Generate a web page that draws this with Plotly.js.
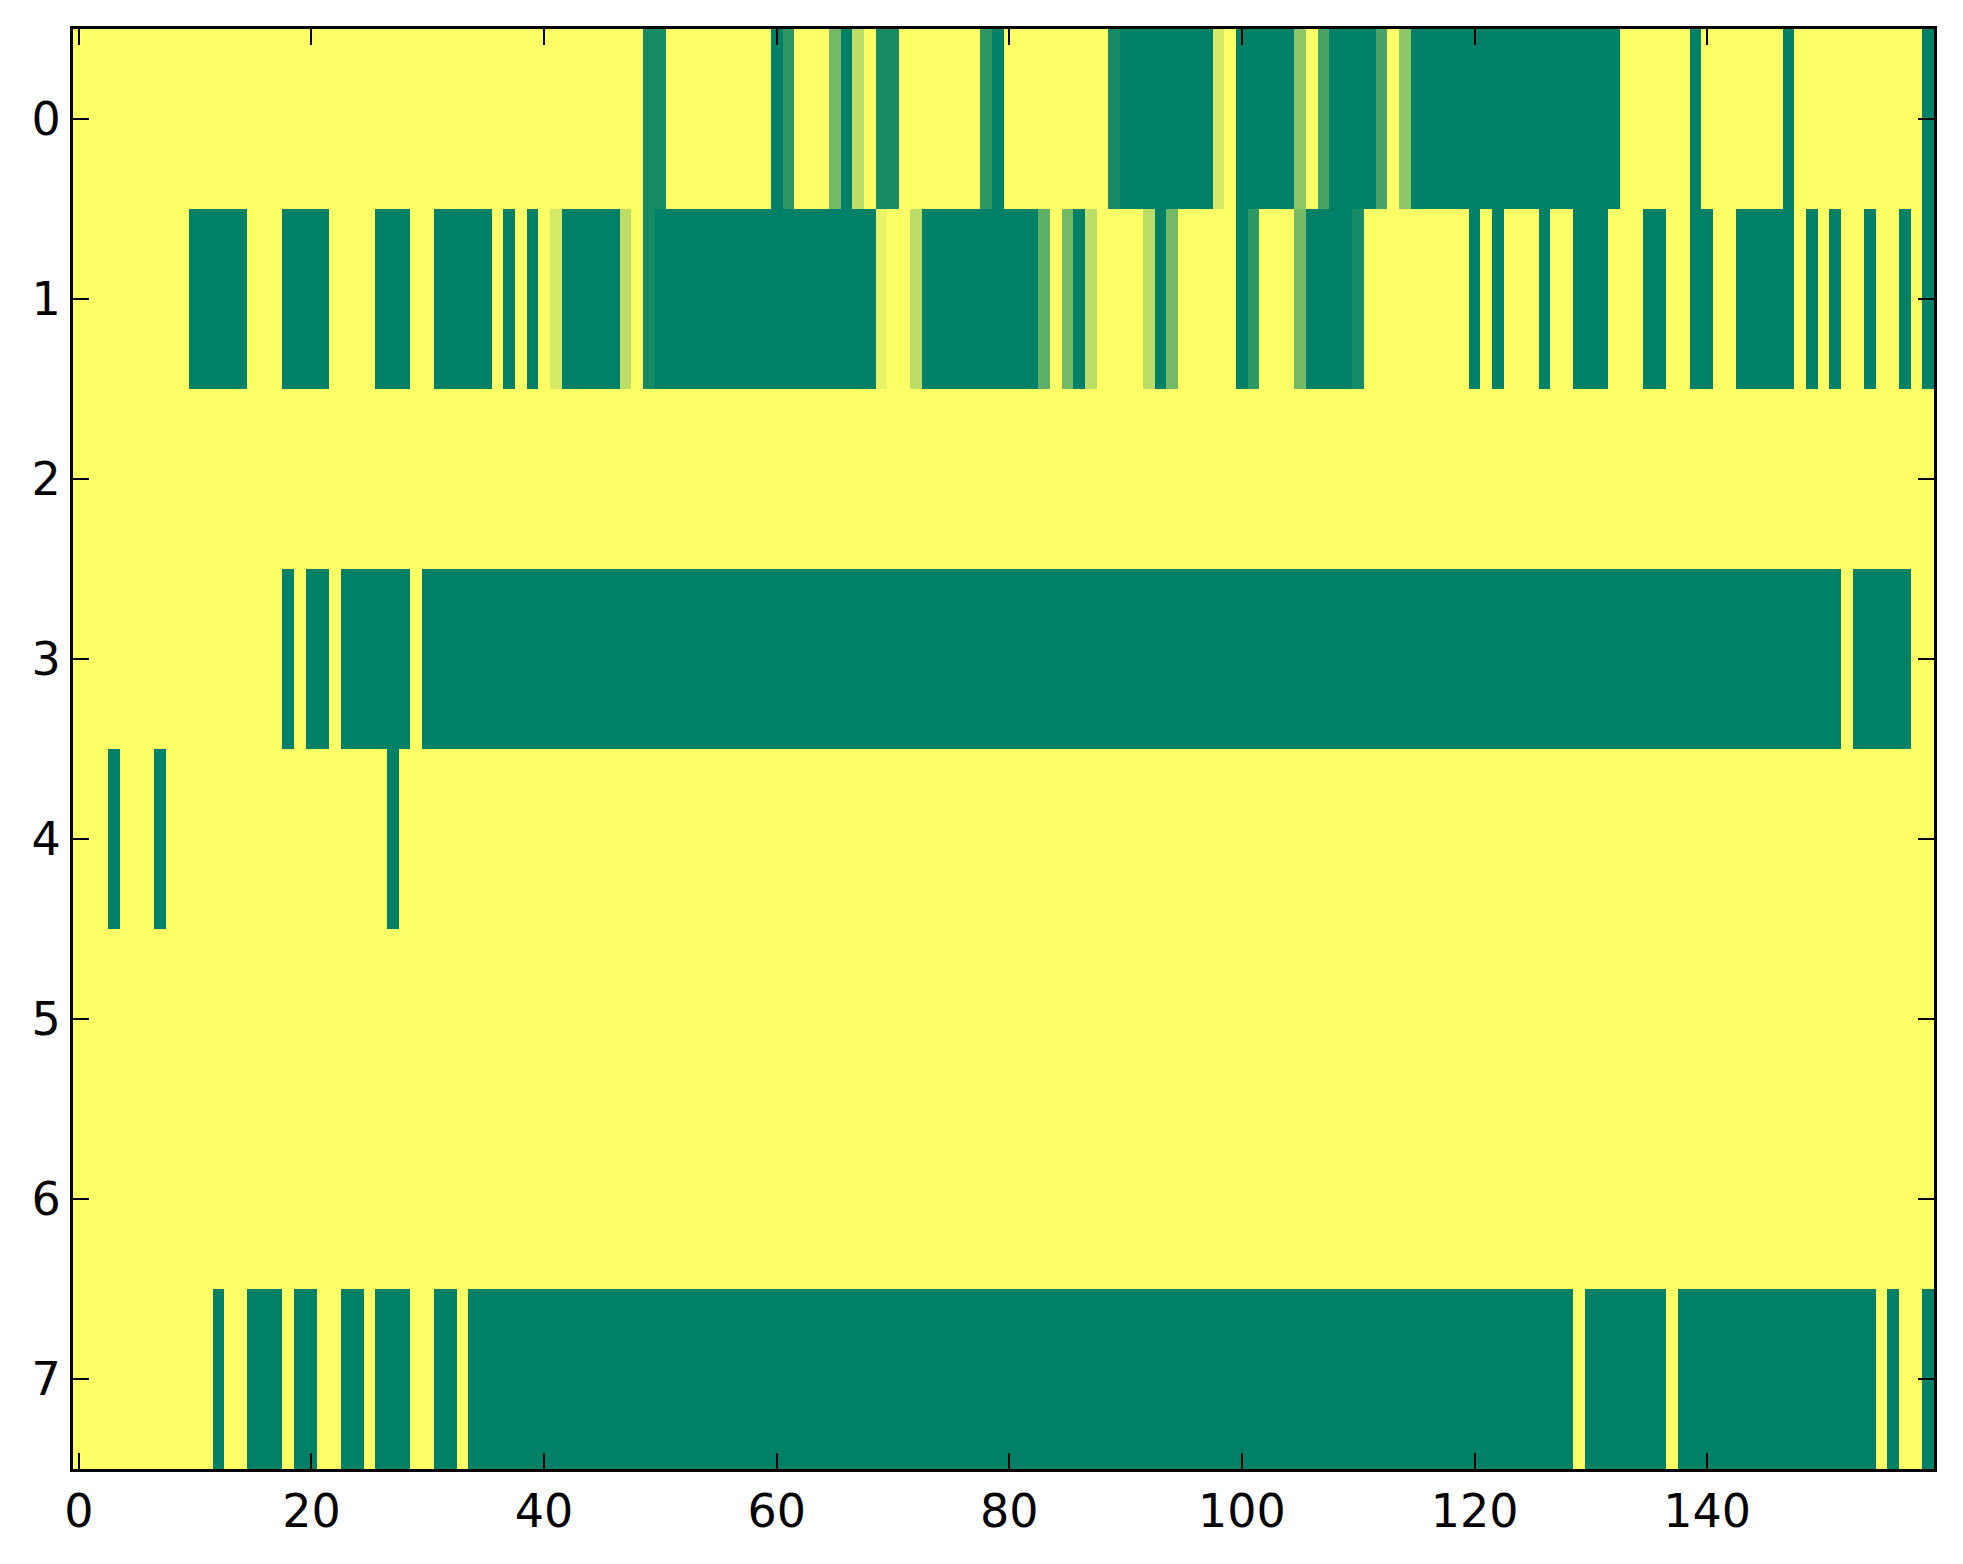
<!DOCTYPE html>
<html>
<head>
<meta charset="utf-8">
<script src="https://cdn.plot.ly/plotly-3.0.1.min.js"></script>
<style>html,body{margin:0;padding:0;background:#fff;}#chart{width:1963px;height:1564px;}</style>
</head>
<body>
<div id="chart"></div>
<script>
const columns = Array.from({length:160}, (_, i) => i);
const rowsIdx = [0,1,2,3,4,5,6,7];
const xTickVals = [0,20,40,60,80,100,120,140];
const yTickVals = [0,1,2,3,4,5,6,7];

const row0 = [
1,1,1,1,1,1,1,1,1,1,
1,1,1,1,1,1,1,1,1,1,
1,1,1,1,1,1,1,1,1,1,
1,1,1,1,1,1,1,1,1,1,
1,1,1,1,1,1,1,1,1,0.09,
0.09,1,1,1,1,1,1,1,1,1,
0,0.18,1,1,1,0.45,0,0.74,1,0.09,
0.09,1,1,1,1,1,1,1,0.18,0,
1,1,1,1,1,1,1,1,1,0.09,
0,0,0,0,0,0,0,0,0.83,1,
0,0,0,0,0,0.55,1,0.28,0,0,
0,0,0.28,1,0.55,0,0,0,0,0,
0,0,0,0,0,0,0,0,0,0,
0,0,0,1,1,1,1,1,1,0,
1,1,1,1,1,1,1,0,1,1,
1,1,1,1,1,1,1,1,1,0];

const row1 = [
1,1,1,1,1,1,1,1,1,1,
0,0,0,0,0,1,1,1,0,0,
0,0,1,1,1,1,0,0,0,1,
1,0,0,0,0,0,1,0,1,0,
1,0.83,0,0,0,0,0,0.74,1,0.09,
0,0,0,0,0,0,0,0,0,0,
0,0,0,0,0,0,0,0,0,0.91,
1,1,0.74,0,0,0,0,0,0,0,
0,0,0,0.37,1,0.45,0,0.74,1,1,
1,1,0.74,0,0.45,1,1,1,1,1,
0,0.18,1,1,1,0.45,0,0,0,0,
0.09,1,1,1,1,1,1,1,1,1,
0,1,0,1,1,1,0,1,1,0,
0,0,1,1,1,0,0,1,1,0,
0,1,1,0,0,0,0,0,1,0,
1,0,1,1,0,1,1,0,1,0];

const row2 = [
1,1,1,1,1,1,1,1,1,1, 1,1,1,1,1,1,1,1,1,1,
1,1,1,1,1,1,1,1,1,1, 1,1,1,1,1,1,1,1,1,1,
1,1,1,1,1,1,1,1,1,1, 1,1,1,1,1,1,1,1,1,1,
1,1,1,1,1,1,1,1,1,1, 1,1,1,1,1,1,1,1,1,1,
1,1,1,1,1,1,1,1,1,1, 1,1,1,1,1,1,1,1,1,1,
1,1,1,1,1,1,1,1,1,1, 1,1,1,1,1,1,1,1,1,1,
1,1,1,1,1,1,1,1,1,1, 1,1,1,1,1,1,1,1,1,1,
1,1,1,1,1,1,1,1,1,1, 1,1,1,1,1,1,1,1,1,1];

const row3 = [
1,1,1,1,1,1,1,1,1,1,
1,1,1,1,1,1,1,1,0,1,
0,0,1,0,0,0,0,0,0,1,
0,0,0,0,0,0,0,0,0,0,
0,0,0,0,0,0,0,0,0,0,
0,0,0,0,0,0,0,0,0,0,
0,0,0,0,0,0,0,0,0,0,
0,0,0,0,0,0,0,0,0,0,
0,0,0,0,0,0,0,0,0,0,
0,0,0,0,0,0,0,0,0,0,
0,0,0,0,0,0,0,0,0,0,
0,0,0,0,0,0,0,0,0,0,
0,0,0,0,0,0,0,0,0,0,
0,0,0,0,0,0,0,0,0,0,
0,0,0,0,0,0,0,0,0,0,
0,0,1,0,0,0,0,0,1,1];

const row4 = [
1,1,1,0,1,1,1,0,1,1, 1,1,1,1,1,1,1,1,1,1,
1,1,1,1,1,1,1,0,1,1, 1,1,1,1,1,1,1,1,1,1,
1,1,1,1,1,1,1,1,1,1, 1,1,1,1,1,1,1,1,1,1,
1,1,1,1,1,1,1,1,1,1, 1,1,1,1,1,1,1,1,1,1,
1,1,1,1,1,1,1,1,1,1, 1,1,1,1,1,1,1,1,1,1,
1,1,1,1,1,1,1,1,1,1, 1,1,1,1,1,1,1,1,1,1,
1,1,1,1,1,1,1,1,1,1, 1,1,1,1,1,1,1,1,1,1,
1,1,1,1,1,1,1,1,1,1, 1,1,1,1,1,1,1,1,1,1];

const row5 = [
1,1,1,1,1,1,1,1,1,1, 1,1,1,1,1,1,1,1,1,1,
1,1,1,1,1,1,1,1,1,1, 1,1,1,1,1,1,1,1,1,1,
1,1,1,1,1,1,1,1,1,1, 1,1,1,1,1,1,1,1,1,1,
1,1,1,1,1,1,1,1,1,1, 1,1,1,1,1,1,1,1,1,1,
1,1,1,1,1,1,1,1,1,1, 1,1,1,1,1,1,1,1,1,1,
1,1,1,1,1,1,1,1,1,1, 1,1,1,1,1,1,1,1,1,1,
1,1,1,1,1,1,1,1,1,1, 1,1,1,1,1,1,1,1,1,1,
1,1,1,1,1,1,1,1,1,1, 1,1,1,1,1,1,1,1,1,1];

const row6 = [
1,1,1,1,1,1,1,1,1,1, 1,1,1,1,1,1,1,1,1,1,
1,1,1,1,1,1,1,1,1,1, 1,1,1,1,1,1,1,1,1,1,
1,1,1,1,1,1,1,1,1,1, 1,1,1,1,1,1,1,1,1,1,
1,1,1,1,1,1,1,1,1,1, 1,1,1,1,1,1,1,1,1,1,
1,1,1,1,1,1,1,1,1,1, 1,1,1,1,1,1,1,1,1,1,
1,1,1,1,1,1,1,1,1,1, 1,1,1,1,1,1,1,1,1,1,
1,1,1,1,1,1,1,1,1,1, 1,1,1,1,1,1,1,1,1,1,
1,1,1,1,1,1,1,1,1,1, 1,1,1,1,1,1,1,1,1,1];

const row7 = [
1,1,1,1,1,1,1,1,1,1,
1,1,0,1,1,0,0,0,1,0,
0,1,1,0,0,1,0,0,0,1,
1,0,0,1,0,0,0,0,0,0,
0,0,0,0,0,0,0,0,0,0,
0,0,0,0,0,0,0,0,0,0,
0,0,0,0,0,0,0,0,0,0,
0,0,0,0,0,0,0,0,0,0,
0,0,0,0,0,0,0,0,0,0,
0,0,0,0,0,0,0,0,0,0,
0,0,0,0,0,0,0,0,0,0,
0,0,0,0,0,0,0,0,0,0,
0,0,0,0,0,0,0,0,0,1,
0,0,0,0,0,0,0,1,0,0,
0,0,0,0,0,0,0,0,0,0,
0,0,0,0,0,1,0,1,1,0];

const zRows = [row0,row1,row2,row3,row4,row5,row6,row7];

const trace = {
  type: 'heatmap',
  x: columns,
  y: rowsIdx,
  z: zRows,
  zmin: 0, zmax: 1,
  colorscale: [[0,'#008066'],[1,'#ffff66']],
  showscale: false,
  hoverongaps: false
};

const axisCommon = {
  showline: true, linecolor: '#000', linewidth: 3, mirror: 'allticks',
  ticks: 'inside', ticklen: 16, tickwidth: 2, tickcolor: '#000',
  showgrid: false, zeroline: false,
  tickfont: {family: 'DejaVu Sans', size: 46, color: '#000'}
};

const layout = {
  width: 1963, height: 1564,
  margin: {l: 73, r: 29, t: 29, b: 95, pad: 0},
  paper_bgcolor: '#fff', plot_bgcolor: '#fff',
  showlegend: false,
  xaxis: Object.assign({}, axisCommon, {
    range: [-0.5, 159.5], tickmode: 'array', tickvals: xTickVals,
    ticktext: xTickVals.map(String)
  }),
  yaxis: Object.assign({}, axisCommon, {
    range: [7.5, -0.5], tickmode: 'array', tickvals: yTickVals,
    ticktext: yTickVals.map(String)
  })
};

Plotly.newPlot('chart', [trace], layout, {displayModeBar: false, staticPlot: true});
</script>
</body>
</html>
